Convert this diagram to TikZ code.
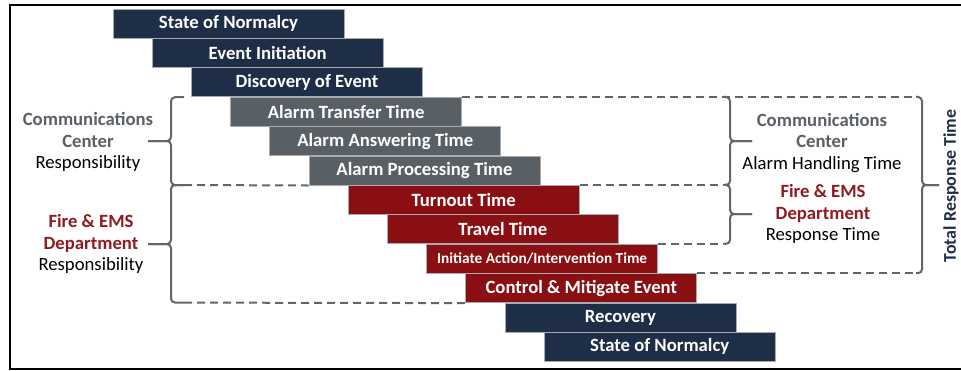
\documentclass[tikz,border=0pt]{standalone}
\usepackage{fontspec}
\setmainfont{Carlito}
\usetikzlibrary{backgrounds}
\definecolor{navy}{HTML}{1E2E47}
\definecolor{slate}{HTML}{596065}
\definecolor{firered}{HTML}{8A0F13}
\definecolor{redtext}{HTML}{8E1B20}
\definecolor{graytext}{HTML}{5A6066}
\definecolor{bracecol}{HTML}{5F676D}
\definecolor{barline}{HTML}{A8ACB0}
\begin{document}
\begin{tikzpicture}[x=1pt,y=-1pt,
  bar/.style={minimum width=231pt, minimum height=29pt, inner sep=0pt, draw=barline, line width=1pt, text=white, font=\bfseries\fontsize{18.7}{20}\selectfont},
  navybar/.style={bar, fill=navy},
  slatebar/.style={bar, fill=slate},
  redbar/.style={bar, fill=firered},
  side/.style={align=center, inner sep=0pt, text=black, font=\fontsize{18.7}{21.5}\selectfont},
  bracket/.style={draw=bracecol, line width=2pt, rounded corners=4pt},
  dashline/.style={draw=bracecol, line width=2pt, dash pattern=on 8pt off 5pt},
  frame/.style={draw=black, line width=2pt}
]
\useasboundingbox (0,0) rectangle (961,370);
\draw[frame] (961,5) -- (10,5) -- (10,368.5) -- (961,368.5);

% bars
\node[navybar]  (b1)  at (228.5,23.5)  {State of Normalcy};
\node[navybar]  (b2)  at (267.7,52.9)  {Event Initiation};
\node[navybar]  (b3)  at (306.9,82.3)  {Discovery of Event};
\node[slatebar] (b4)  at (346.1,111.7) {Alarm Transfer Time};
\node[slatebar] (b5)  at (385.3,141.1) {Alarm Answering Time};
\node[slatebar] (b6)  at (424.5,170.5) {Alarm Processing Time};
\node[redbar]   (b7)  at (463.7,199.9) {Turnout Time};
\node[redbar]   (b8)  at (502.9,229.3) {Travel Time};
\node[redbar, font=\bfseries\fontsize{15.3}{16}\selectfont] (b9) at (542.1,258.7) {Initiate Action/Intervention Time};
\node[redbar]   (b10) at (581.3,288.1) {Control \& Mitigate Event};
\node[navybar]  (b11) at (620.5,317.5) {Recovery};
\node[navybar]  (b12) at (659.7,346.9) {State of Normalcy};

% side labels
\node[side] (lcc) at (88,142) {\textcolor{graytext}{\bfseries Communications}\\\textcolor{graytext}{\bfseries Center}\\Responsibility};
\node[side] (lfe) at (91,244) {\textcolor{redtext}{\bfseries Fire \& EMS}\\\textcolor{redtext}{\bfseries Department}\\Responsibility};
\node[side] (rcc) at (822,143) {\textcolor{graytext}{\bfseries Communications}\\\textcolor{graytext}{\bfseries Center}\\Alarm Handling Time};
\node[side] (rfe) at (823,214) {\textcolor{redtext}{\bfseries Fire \& EMS}\\\textcolor{redtext}{\bfseries Department}\\Response Time};
\node[rotate=90, inner sep=0pt, text=navy, font=\bfseries\fontsize{17.9}{19}\selectfont] (trt) at (951,186) {Total Response Time};

% bracket end coordinates
\coordinate (lmid) at (184,185);
\coordinate (lbot) at (184,302.6);
\coordinate (rx)   at (724,0);
\coordinate (tx)   at (916,0);

\begin{pgfonlayer}{background}
  \draw[dashline] (lmid) -- (b6.south west);
  \draw[dashline] (lbot) -- (b10.south west);
  \draw[dashline] (b4.north east) -- (b4.north east -| tx);
  \draw[dashline] (b7.north east) -- (b7.north east -| rx);
  \draw[dashline] (b9.north east) -- (b9.north east -| rx);
  \draw[dashline] (b10.north east) -- (b10.north east -| tx);
\end{pgfonlayer}

% left braces
\draw[bracket] (184,97.2) -- (171,97.2) -- (171,141) -- (148,141);
\draw[bracket] (148,141) -- (171,141) -- (171,185) -- (lmid);
\draw[bracket] (lmid) -- (171,185) -- (171,244) -- (148,244);
\draw[bracket] (148,244) -- (171,244) -- (171,302.6) -- (lbot);

% right braces
\draw[bracket] (b4.north east -| rx) -- (730,97.2) -- (730,141) -- (752,141);
\draw[bracket] (752,141) -- (730,141) -- (730,185) -- (b7.north east -| rx);
\draw[bracket] (b7.north east -| rx) -- (730,185) -- (730,214) -- (752,214);
\draw[bracket] (752,214) -- (730,214) -- (730,244) -- (b9.north east -| rx);

% total response bracket
\draw[bracket] (b4.north east -| tx) -- (922,97.2) -- (922,185) -- (939,185);
\draw[bracket] (939,185) -- (922,185) -- (922,273.2) -- (b10.north east -| tx);
\end{tikzpicture}
\end{document}
